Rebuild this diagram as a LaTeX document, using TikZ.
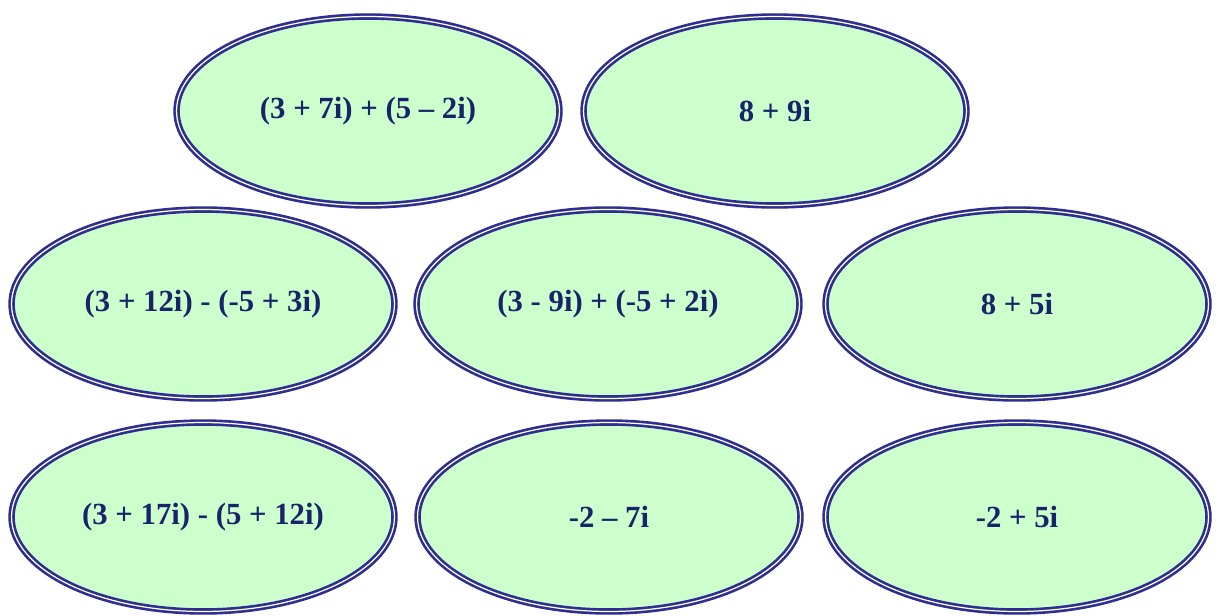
\documentclass[tikz,border=0pt]{standalone}
\usepackage{fontspec}
\setmainfont{Liberation Serif}
\usepackage{xcolor}
\usepackage{tikz}
\usetikzlibrary{shapes.geometric}
\definecolor{OvalBlue}{HTML}{2E2E90}
\definecolor{OvalGreen}{HTML}{CCFFCC}
\definecolor{OvalText}{HTML}{18246A}

\begin{document}
\begin{tikzpicture}[
  x=0.02cm,y=-0.02cm,
  every node/.style={font=\bfseries\fontsize{17.5}{20}\selectfont},
  oval/.style={ellipse,draw=OvalBlue,fill=OvalGreen,double=white,
    line width=1.5pt,double distance=0.7pt,inner sep=0pt,
    minimum width=7.66cm,minimum height=3.78cm,text=OvalText}
]
  \useasboundingbox[fill=white] (0,0) rectangle (1222,615);
  % top row
  \node[oval] (sumA) at (368,111) {(3 + 7i) + (5 -- 2i)};
  \node[oval] (ansA) at (775,111) {8 + 9i};
  % middle row
  \foreach \x/\nm/\lab in {203/difA/{(3 + 12i) - (-5 + 3i)},
                           608/sumB/{(3 - 9i) + (-5 + 2i)},
                           1017/ansB/{8 + 5i}}{
    \node[oval] (\nm) at (\x,304) {\lab};
  }
  % bottom row
  \foreach \x/\nm/\lab in {203/difB/{(3 + 17i) - (5 + 12i)},
                           609/ansC/{-2 -- 7i},
                           1017/ansD/{-2 + 5i}}{
    \node[oval] (\nm) at (\x,517) {\lab};
  }
\end{tikzpicture}
\end{document}
